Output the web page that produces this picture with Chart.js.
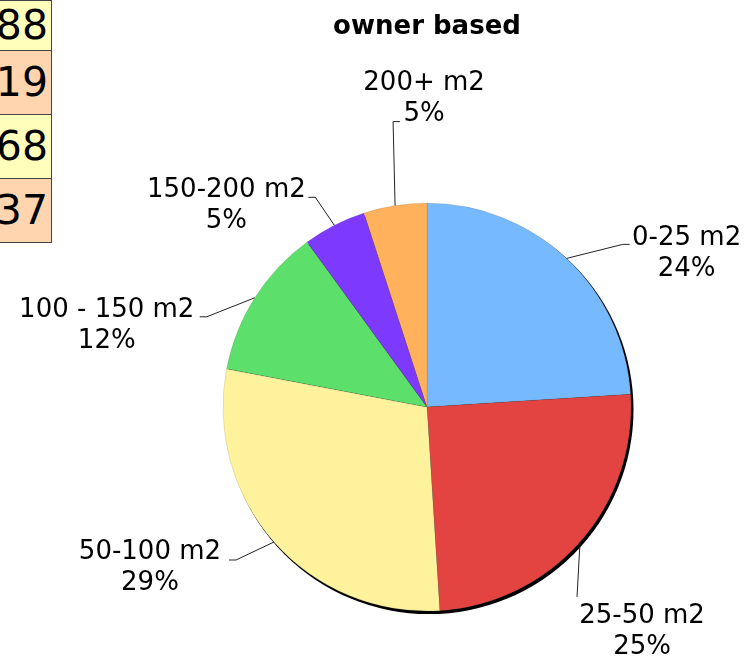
<!DOCTYPE html>
<html>
<head>
<meta charset="utf-8">
<script src="https://cdn.jsdelivr.net/npm/chart.js@4"></script>
<style>
  body { margin: 0; background: #fff; overflow: hidden; }
  #wrap { position: relative; width: 754px; height: 667px; }
  #side {
    position: absolute; left: -29px; top: 0;
    border-collapse: collapse;
    font-family: "DejaVu Sans", sans-serif; font-size: 41px; color: #000;
  }
  #side td {
    width: 76px; padding: 0 3px 0 0; text-align: right;
    border: 1px solid #444; line-height: 1;
  }
  #side tr.y td { background: #ffffbb; }
  #side tr.o td { background: #ffd5b0; }
</style>
</head>
<body>
<div id="wrap">
  <canvas id="pie" width="754" height="667"></canvas>
  <table id="side"></table>
</div>
<script>
// slices, clockwise from 12 o'clock
const categories = ['0-25 m2', '25-50 m2', '50-100 m2', '100 - 150 m2', '150-200 m2', '200+ m2'];
const shares = [24, 25, 29, 12, 5, 5];
const sliceColors = ['#76b9fe', '#e34441', '#fff29d', '#5ce06b', '#7d3afe', '#ffb25b'];

// bits of the neighbouring table that show at the left edge
const sideValues = ['88', '19', '68', '37'];

// leader line / text placement for each label, relative to the slice's outer mid point
// elbow: [dx, dy], tail: horizontal stub length, text: [centre dx, first baseline dy]
const labelPlaces = [
  { elbow: [56, -14], tail: 7, text: [120, -13] },
  { elbow: [-3, 55], tail: 0, text: [62, 81] },
  { elbow: [-38, 18], tail: -7, text: [-124, 17] },
  { elbow: [-48, 19], tail: -7, text: [-148, 19] },
  { elbow: [-19, -28], tail: -7, text: [-108, -28] },
  { elbow: [-2, -84], tail: 7, text: [29, -116] }
];

const side = document.getElementById('side');
sideValues.forEach(function(v, i) {
  const tr = document.createElement('tr');
  tr.className = i % 2 ? 'o' : 'y';
  tr.style.height = (i === 0 ? 50 : 64) + 'px';
  const td = document.createElement('td');
  td.textContent = v;
  tr.appendChild(td);
  side.appendChild(tr);
});

const pieShadow = {
  id: 'pieShadow',
  beforeDatasetsDraw(chart) {
    const arc = chart.getDatasetMeta(0).data[0];
    if (!arc) return;
    const p = arc.getProps(['x', 'y', 'outerRadius'], true);
    const ctx = chart.ctx;
    ctx.save();
    ctx.beginPath();
    ctx.arc(p.x + 2, p.y + 2.5, p.outerRadius + 0.5, 0, Math.PI * 2);
    ctx.fillStyle = '#000';
    ctx.fill();
    ctx.restore();
  }
};

const outsideLabels = {
  id: 'outsideLabels',
  afterDatasetsDraw(chart) {
    const ctx = chart.ctx;
    const values = chart.data.datasets[0].data;
    const total = values.reduce(function(a, b) { return a + b; }, 0);
    ctx.save();
    ctx.font = '26px "DejaVu Sans"';
    ctx.textAlign = 'center';
    ctx.textBaseline = 'alphabetic';
    ctx.fillStyle = '#000';
    ctx.strokeStyle = '#222';
    ctx.lineWidth = 1;
    chart.getDatasetMeta(0).data.forEach(function(arc, i) {
      const p = arc.getProps(['x', 'y', 'startAngle', 'endAngle', 'outerRadius'], true);
      const mid = (p.startAngle + p.endAngle) / 2;
      const ax = p.x + Math.cos(mid) * p.outerRadius;
      const ay = p.y + Math.sin(mid) * p.outerRadius;
      const place = labelPlaces[i];
      const ex = ax + place.elbow[0];
      const ey = ay + place.elbow[1];
      ctx.beginPath();
      ctx.moveTo(ax, ay);
      ctx.lineTo(ex, ey);
      if (place.tail) ctx.lineTo(ex + place.tail, ey);
      ctx.stroke();
      const tx = ax + place.text[0];
      const ty = ay + place.text[1];
      ctx.fillText(chart.data.labels[i], tx, ty);
      ctx.fillText(Math.round(values[i] / total * 100) + '%', tx, ty + 31);
    });
    ctx.restore();
  }
};

new Chart(document.getElementById('pie').getContext('2d'), {
  type: 'pie',
  data: {
    labels: categories,
    datasets: [{
      data: shares,
      backgroundColor: sliceColors,
      borderColor: 'rgba(90,90,90,0.3)',
      borderWidth: 0.5,
      radius: 204
    }]
  },
  options: {
    responsive: false,
    animation: false,
    layout: { padding: { left: 126, right: 26, top: 0, bottom: 10 } },
    plugins: {
      legend: { display: false },
      tooltip: { enabled: false },
      title: {
        display: true,
        text: 'owner based',
        color: '#000',
        font: { family: '"DejaVu Sans"', size: 26, weight: 'bold' },
        padding: { top: 12, bottom: 114 }
      }
    }
  },
  plugins: [pieShadow, outsideLabels]
});
</script>
</body>
</html>
